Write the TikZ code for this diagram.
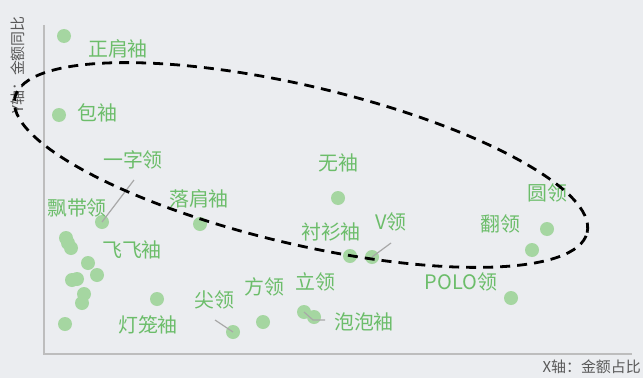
\documentclass[tikz,border=0pt]{standalone}
\usepackage{fontspec}
\setmainfont{Noto Sans CJK SC}
\definecolor{bggray}{HTML}{EBEDF0}
\definecolor{lblgreen}{HTML}{6CBD6A}
\definecolor{ptgreen}{HTML}{A5D6A1}
\definecolor{axisgray}{HTML}{BDBDBD}
\definecolor{leadgray}{HTML}{A8A8A8}

\begin{document}
\begin{tikzpicture}[x=1bp,y=1bp,
  pt/.style={circle,fill=ptgreen,inner sep=0pt,minimum size=14bp},
  lbl/.style={text=lblgreen,font=\fontsize{20}{24}\selectfont,inner sep=0pt},
  axlbl/.style={text=black!65,font=\fontsize{15}{18}\selectfont,inner sep=0pt},
  leader/.style={draw=leadgray,line width=1.2bp}]
\fill[bggray] (0,0) rectangle (643,378);
\useasboundingbox (0,0) rectangle (643,378);

% axes
\coordinate (o) at (44,24);
\coordinate (ytop) at (44,353);
\coordinate (xend) at (632,24);
\draw[axisgray,line width=1.5bp] (ytop) -- (o) -- (xend);
\node[axlbl,anchor=east] (xlab) at (641,11) {X轴：金额占比};
\node[axlbl,rotate=90] (ylab) at (18,313) {Y轴：金额同比};

% points
\foreach \n/\x/\y in {zhengjian/64/342, baoxiu/59/263, piaodai/102/156, luojian/200/154,
  wuxiu/338/180, chenshan/350/122, vling/372/121, yuanling/547/149, fanling/532/128,
  polo/511/80, fangling/263/56, paopao/314/61, liling/304/66, jianling/233/46, denglong/157/79}{
\node[pt] (\n) at (\x,\y) {};}

\foreach \i/\x/\y in {1/66/140, 2/68/135, 3/71/130, 4/88/115, 5/97/103,
  6/72/98, 7/77/99, 8/84/84, 9/82/75, 10/65/54}{
\node[pt] (c\i) at (\x,\y) {};}

% labels
\node[lbl] (lzhengjian) at (118,329) {正肩袖};
\node[lbl] (lbaoxiu) at (97,265) {包袖};
\node[lbl] (lyizi) at (133,218) {一字领};
\node[lbl] (lpiaodai) at (77,170) {飘带领};
\node[lbl] (lluojian) at (199,179) {落肩袖};
\node[lbl] (lfeifei) at (132,128) {飞飞袖};
\node[lbl] (ldenglong) at (148,53) {灯笼袖};
\node[lbl] (ljianling) at (214,78) {尖领};
\node[lbl] (lfangling) at (264,91) {方领};
\node[lbl] (lliling) at (315,96) {立领};
\node[lbl] (lpaopao) at (364,56) {泡泡袖};
\node[lbl] (lwuxiu) at (338,215) {无袖};
\node[lbl] (lchenshan) at (331,146) {衬衫袖};
\node[lbl] (lvling) at (391,156) {V领};
\node[lbl] (lyuanling) at (547,185) {圆领};
\node[lbl] (lfanling) at (500,154) {翻领};
\node[lbl] (lpolo) at (461,96) {POLO领};

% leaders
\coordinate (yzend) at (134,198);
\coordinate (jlend) at (215,58);
\coordinate (vlend) at (391,135);
\coordinate (ppend) at (325,58);
\coordinate (ppbend) at (313,58);
\draw[leader] (yzend) -- (piaodai.center);
\draw[leader] (jlend) -- (jianling.center);
\draw[leader] (vlend) -- (vling.center);
\draw[leader] (ppend) -- (ppbend) -- (liling.center);

% dashed group
\draw[black,line width=2.8bp,dash pattern=on 10bp off 7bp,rotate around={-13.3:(301,213)}]
  (301,213) ellipse [x radius=294bp, y radius=79bp];

\end{tikzpicture}
\end{document}
